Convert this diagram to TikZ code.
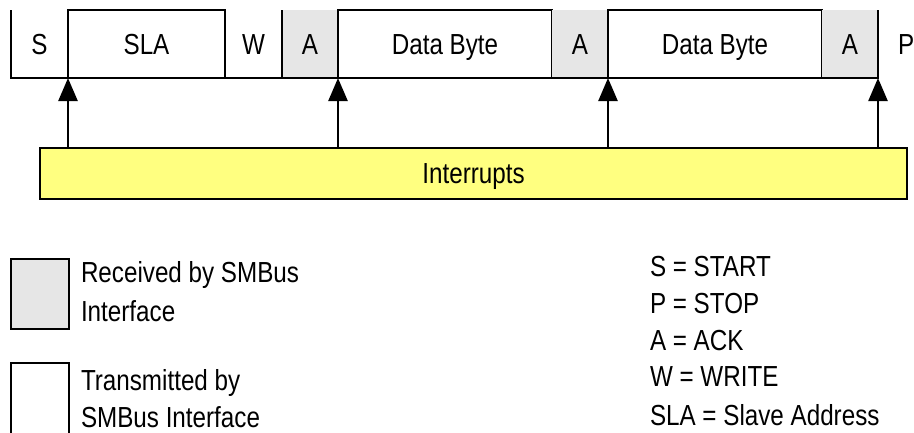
\documentclass[tikz,border=0pt]{standalone}
\usepackage{fontspec}
\setmainfont{Liberation Sans}[FakeStretch=0.835]
\usetikzlibrary{arrows.meta}
\definecolor{rxgray}{RGB}{230,230,230}
\definecolor{intyellow}{RGB}{255,255,128}
\begin{document}
\begin{tikzpicture}[x=1pt,y=-1pt,
  every node/.style={font=\fontsize{29}{35}\selectfont, inner sep=0pt, outer sep=0pt},
  thick line/.style={line width=2.4pt},
  field/.style={minimum height=68pt, text height=20.8pt, text depth=0pt},
  txfield/.style={field, draw, thick line, fill=white},
  rxfield/.style={field, fill=rxgray},
  openfield/.style={field},
  intarrow/.style={thick line, -{Triangle[length=23pt,width=19pt]}},
  legtext/.style={anchor=base west}
]
\useasboundingbox (0,0) rectangle (914,432);
\fill[white] (0,0) rectangle (914,432);

% frame fields
\node[openfield, minimum width=57pt] (S)   at (39.5,44) {S};
\node[txfield,  minimum width=157pt] (SLA) at (146.5,44) {SLA};
\node[openfield, minimum width=57pt] (W)   at (253.5,44) {W};
\node[rxfield,  minimum width=56pt]  (A1)  at (310,44) {A};
\node[txfield,  minimum width=214pt] (D1)  at (445,44) {Data Byte};
\node[rxfield,  minimum width=56pt]  (A2)  at (580,44) {A};
\node[txfield,  minimum width=214pt] (D2)  at (715,44) {Data Byte};
\node[rxfield,  minimum width=56pt]  (A3)  at (850,44) {A};
\node[anchor=west, text height=20.8pt, text depth=0pt] (P) at (898,44) {P};

% open borders of S, W and the received fields
\draw[thick line] (S.north west) -- (S.south west) -- (A3.south east) -- (A3.north east);
\draw[thick line] (A1.north west) -- (A1.south west);

% interrupts bar
\node[draw, thick line, fill=intyellow, minimum width=867pt, minimum height=51pt,
      text height=20.8pt, text depth=0pt] (INT) at (473.5,173.5) {Interrupts};

% interrupt arrows
\draw[intarrow] (INT.north -| SLA.south west) -- (SLA.south west);
\draw[intarrow] (INT.north -| D1.south west) -- (D1.south west);
\draw[intarrow] (INT.north -| D2.south west) -- (D2.south west);
\draw[intarrow] (INT.north -| A3.south east) -- (A3.south east);

% legend boxes
\node[draw, thick line, fill=rxgray, minimum width=58pt, minimum height=70pt] (LRX) at (40,294) {};
\node[draw, thick line, fill=white, minimum width=58pt, minimum height=74pt] (LTX) at (40,400) {};

\node[legtext] (LRX1) at (81,282.7) {Received by SMBus};
\node[legtext] (LRX2) at (81,321.7) {Interface};
\node[legtext] (LTX1) at (81,390) {Transmitted by};
\node[legtext] (LTX2) at (81,427.5) {SMBus Interface};

% abbreviations
\node[legtext] (K1) at (650,276.7) {S = START};
\node[legtext] (K2) at (650,313.3) {P = STOP};
\node[legtext] (K3) at (650,350) {A = ACK};
\node[legtext] (K4) at (650,386.7) {W = WRITE};
\node[legtext] (K5) at (650,425) {SLA = Slave Address};
\end{tikzpicture}
\end{document}
